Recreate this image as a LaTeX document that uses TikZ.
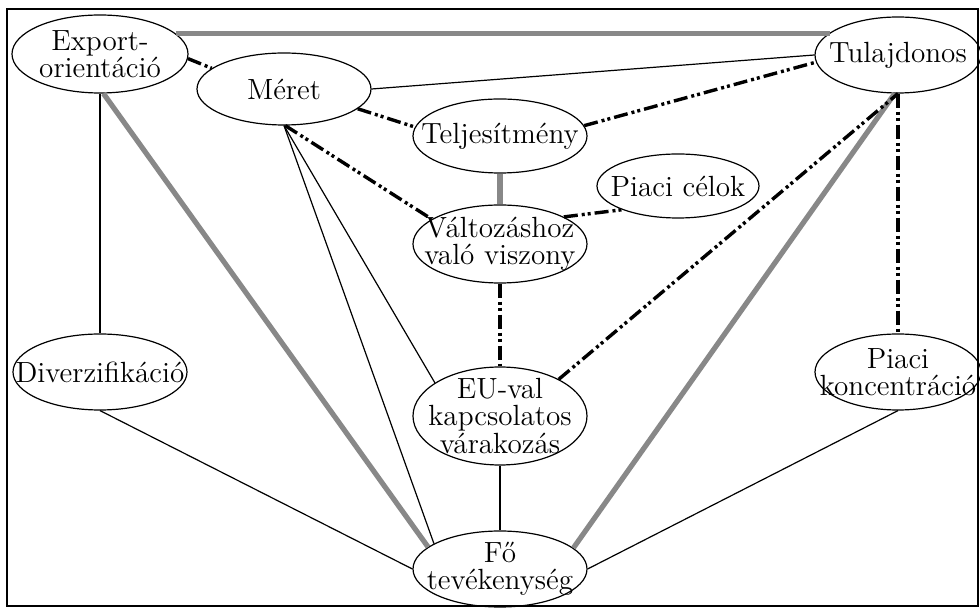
\documentclass[tikz,border=0pt]{standalone}
\usepackage{fontspec}
\usetikzlibrary{shapes.geometric}
\definecolor{grayline}{RGB}{136,136,136}
\begin{document}
\begin{tikzpicture}[x=0.5pt,y=-0.5pt,
  ell/.style 2 args={ellipse, draw, line width=0.6pt, inner sep=0pt,
    minimum width=#1pt, minimum height=#2pt},
  txt/.style={align=center, inner sep=0pt, font=\fontsize{14.6}{13.6}\selectfont},
  th/.style={line width=0.6pt},
  gr/.style={line width=2.6pt, draw=grayline},
  dd/.style={line width=1.7pt, dash pattern=on 7pt off 2pt on 1.5pt off 1.5pt on 1.5pt off 2pt}]
\useasboundingbox (0,0) rectangle (980,608);
\draw[line width=0.6pt] (7,9) rectangle (978,606);

\node[ell={88}{39}, label={[txt]center:{Export-\\orientáció}}] (exp) at (100,54) {};
\node[ell={87}{36}, label={[txt]center:{Méret}}] (mer) at (284,89) {};
\node[ell={87}{37}, label={[txt]center:{Teljesítmény}}] (tel) at (500,136) {};
\node[ell={83}{38}, label={[txt]center:{Tulajdonos}}] (tul) at (898,55) {};
\node[ell={81}{32}, label={[txt]center:{Piaci célok}}] (pc) at (678,186) {};
\node[ell={87}{39}, label={[txt]center:{Változáshoz\\való viszony}}] (val) at (500,244) {};
\node[ell={87}{38}, label={[txt]center:{Diverzifikáció}}] (div) at (100,372) {};
\node[ell={87}{49}, label={[txt]center:{EU-val\\kapcsolatos\\várakozás}}] (eu) at (500,416) {};
\node[ell={83}{38}, label={[txt]center:{Piaci\\koncentráció}}] (pk) at (898,372) {};
\node[ell={87}{38}, label={[txt]center:{Fő\\tevékenység}}] (fo) at (500,569) {};

% gray thick
\draw[gr] (exp.15.8) -- (tul.162 |- exp.15.8);
\draw[gr] (exp.-85) -- (fo.163);
\draw[gr] (tel.south) -- (val.north);
\draw[gr] (tul.-95) -- (fo.16);
% thin
\draw[th] (mer.east) -- (tul.west);
\draw[th] (mer.south) -- (eu.153);
\draw[th] (mer.south) -- (fo.159);
\draw[th] (exp.south) -- (div.north);
\draw[th] (div.south) -- (fo.west);
\draw[th] (eu.south) -- (fo.north);
\draw[th] (pk.south) -- (fo.east);
% dash-dot-dot
\draw[dd] (exp.-3) -- (mer.164);
\draw[dd] (mer.-15) -- (tel.174);
\draw[dd] (tel.7) -- (tul.185);
\draw[dd] (mer.-88) -- (val.160);
\draw[dd] (val.23) -- (pc.203);
\draw[dd] (val.south) -- (eu.north);
\draw[dd] (eu.32) -- (tul.south);
\draw[dd] (tul.south) -- (pk.north);
\end{tikzpicture}
\end{document}
